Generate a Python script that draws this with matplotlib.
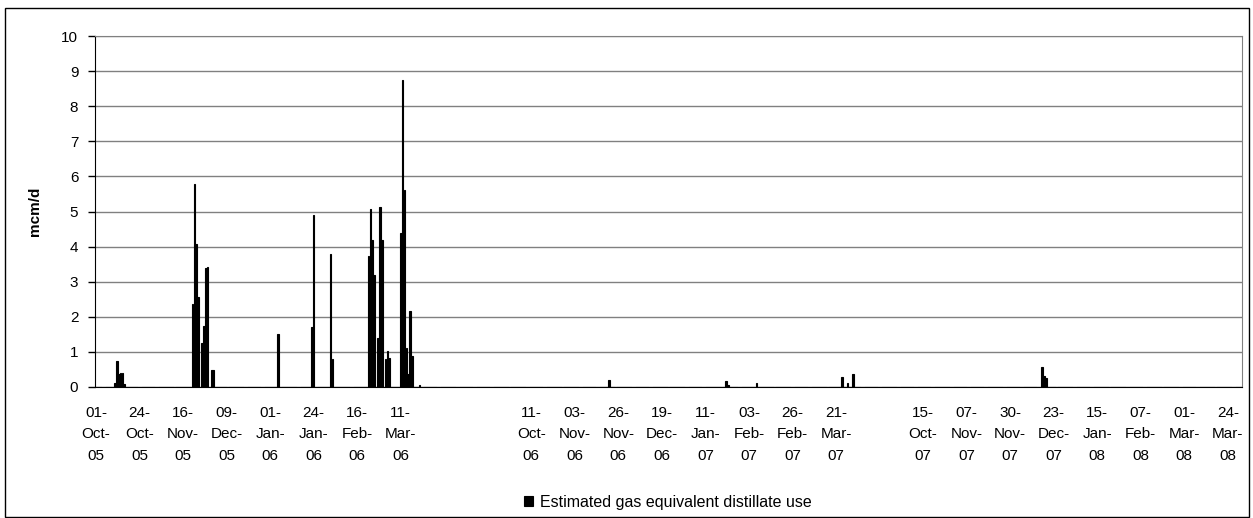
import pandas as pd
import numpy as np
import matplotlib
matplotlib.use('Agg')
import matplotlib.pyplot as plt
from matplotlib.patches import Rectangle

plt.rcParams['font.family'] = ['Liberation Sans', 'DejaVu Sans']

# Winter seasons shown on the category axis, with blank rows between them
seasons = [('2005-10-01', '2006-03-31'), ('2006-10-01', '2007-03-31'), ('2007-10-01', '2008-03-31')]
blank_rows = [38, 21]
label_every = 23

# Estimated gas equivalent distillate use (mcm/d), non-zero days only
use_dates = [
    '2005-10-11', '2005-10-12', '2005-10-13', '2005-10-14', '2005-10-15', '2005-10-16',
    '2005-11-21', '2005-11-22', '2005-11-23', '2005-11-24', '2005-11-26', '2005-11-27',
    '2005-11-28', '2005-11-29', '2005-12-01', '2005-12-02',
    '2006-01-05', '2006-01-23', '2006-01-24', '2006-02-02', '2006-02-03',
    '2006-02-22', '2006-02-23', '2006-02-24', '2006-02-25', '2006-02-27', '2006-02-28',
    '2006-03-01', '2006-03-03', '2006-03-04', '2006-03-05',
    '2006-03-11', '2006-03-12', '2006-03-13', '2006-03-14', '2006-03-15', '2006-03-16',
    '2006-03-17', '2006-03-21',
    '2006-11-21', '2007-01-22', '2007-01-23', '2007-02-07',
    '2007-03-24', '2007-03-27', '2007-03-30',
    '2007-12-17', '2007-12-18', '2007-12-19',
]
use_values = [
    0.11, 0.74, 0.36, 0.39, 0.39, 0.08,
    2.37, 5.78, 4.08, 2.55, 1.25, 1.75,
    3.39, 3.43, 0.49, 0.49,
    1.52, 1.71, 4.90, 3.79, 0.80,
    3.73, 5.07, 4.18, 3.18, 1.41, 5.14,
    4.18, 0.80, 1.03, 0.83,
    4.40, 8.74, 5.62, 1.12, 0.36, 2.17,
    0.87, 0.05,
    0.19, 0.16, 0.06, 0.11,
    0.28, 0.12, 0.38,
    0.58, 0.30, 0.27,
]

# Build the category list (dates, with None for blank rows)
categories = []
for i, (start, end) in enumerate(seasons):
    categories += list(pd.date_range(start, end, freq='D'))
    if i < len(blank_rows):
        categories += [None] * blank_rows[i]

row_of = {d: i for i, d in enumerate(categories) if d is not None}
values = np.zeros(len(categories))
for d, v in zip(use_dates, use_values):
    values[row_of[pd.Timestamp(d)]] = v

tick_rows = list(range(0, len(categories), label_every))
tick_labels = [categories[r].strftime('%d-\n%b-\n%y') if categories[r] is not None else ''
               for r in tick_rows]

W, H = 1253, 518
fig = plt.figure(figsize=(W / 100, H / 100), dpi=100)
ax = fig.add_axes([95 / W, 1 - 387 / H, 1147 / W, 351 / H])

bars = ax.bar(np.arange(len(categories)), values, width=0.9, color='black',
              edgecolor='black', linewidth=0.8,
              label='Estimated gas equivalent distillate use', zorder=3)

ax.set_xlim(-0.5, len(categories) - 0.5)
ax.set_ylim(0, 10)
ax.set_yticks(range(0, 11))
ax.yaxis.grid(True, color='#808080', linewidth=1.0, zorder=0)
ax.set_axisbelow(True)

ax.set_xticks(tick_rows)
ax.set_xticklabels(tick_labels, fontsize=11, linespacing=1.68, va='top')
ax.tick_params(axis='x', length=0, pad=13.5)
ax.tick_params(axis='y', length=5, width=1, pad=7, labelsize=11, direction='out')

ax.spines['left'].set_color('black')
ax.spines['bottom'].set_color('black')
ax.spines['top'].set_color('#808080')
ax.spines['right'].set_color('#808080')

ax.set_ylabel('mcm/d', fontsize=11, fontweight='bold')
ax.yaxis.set_label_coords(-0.046, 0.5)

fig.legend(handles=[bars], loc='center', bbox_to_anchor=(668 / W, 1 - 502 / H),
           frameon=False, fontsize=11.5, handlelength=0.55, handleheight=0.55,
           handletextpad=0.45)

# outer chart border
fig.patches.append(Rectangle((5 / W, 1 / H), 1244 / W, 509 / H, transform=fig.transFigure,
                             fill=False, edgecolor='black', linewidth=1))

fig.savefig('out.png', dpi=100, facecolor='white')
